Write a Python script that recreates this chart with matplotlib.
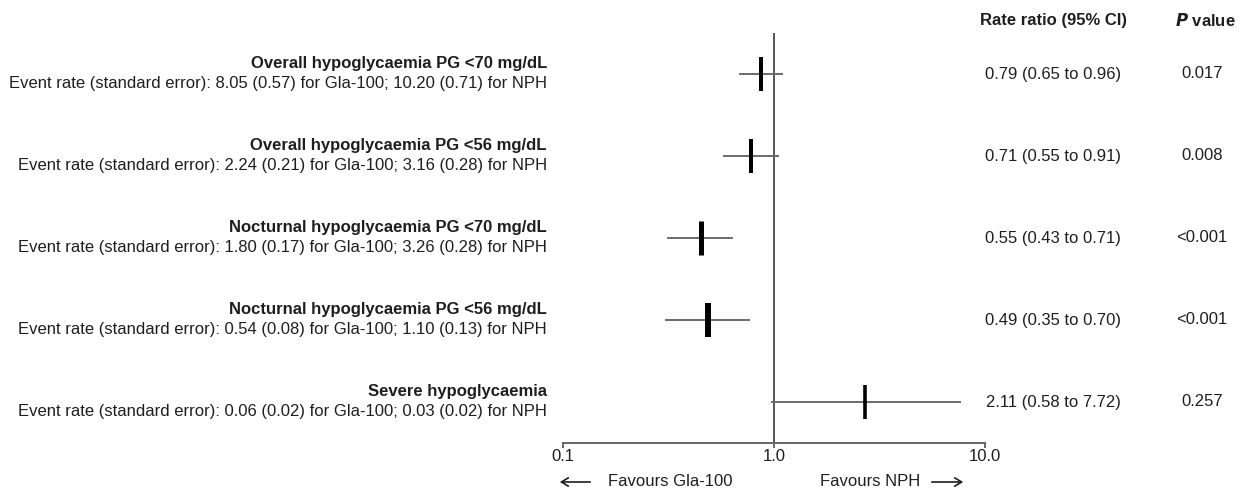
import matplotlib.pyplot as plt
import matplotlib.transforms as mtransforms

plt.rcParams['font.family'] = ['Liberation Sans', 'DejaVu Sans']

# outcome rows, top to bottom
titles = ["Overall hypoglycaemia PG <70 mg/dL",
          "Overall hypoglycaemia PG <56 mg/dL",
          "Nocturnal hypoglycaemia PG <70 mg/dL",
          "Nocturnal hypoglycaemia PG <56 mg/dL",
          "Severe hypoglycaemia"]
gla_rate = ["8.05 (0.57)", "2.24 (0.21)", "1.80 (0.17)", "0.54 (0.08)", "0.06 (0.02)"]
nph_rate = ["10.20 (0.71)", "3.16 (0.28)", "3.26 (0.28)", "1.10 (0.13)", "0.03 (0.02)"]
ratio_text = ["0.79 (0.65 to 0.96)", "0.71 (0.55 to 0.91)", "0.55 (0.43 to 0.71)",
              "0.49 (0.35 to 0.70)", "2.11 (0.58 to 7.72)"]
p_text = ["0.017", "0.008", "<0.001", "<0.001", "0.257"]

# positions as drawn in the figure
est = [0.87, 0.78, 0.45, 0.485, 2.71]
lo = [0.69, 0.58, 0.315, 0.307, 0.98]
hi = [1.09, 1.05, 0.63, 0.76, 7.6]
weight = [2.9, 2.9, 3.6, 4.3, 2.6]

dark = '#1e1e1e'
fs = 12
fig = plt.figure(figsize=(12.48, 4.95), dpi=100)
ax = fig.add_axes([563 / 1248, 52 / 495, 422 / 1248, 410 / 495])
ax.set_xscale('log')
ax.set_xlim(0.1, 10)
ax.set_ylim(4.5, -0.5)

ax.axvline(1.0, color='#555555', lw=1.4, zorder=1)
for i in range(len(est)):
    ax.plot([lo[i], hi[i]], [i, i], color='#6a6a6a', lw=1.4, zorder=2)
    ax.plot([est[i], est[i]], [i - 0.205, i + 0.205], color='black', lw=weight[i],
            solid_capstyle='butt', zorder=3)

for s in ['top', 'right', 'left']:
    ax.spines[s].set_visible(False)
ax.spines['bottom'].set_color('#666666')
ax.spines['bottom'].set_linewidth(1.4)
ax.set_yticks([])
ax.set_xticks([0.1, 1, 10])
ax.set_xticklabels(["0.1", "1.0", "10.0"])
ax.minorticks_off()
ax.tick_params(axis='x', length=3.5, width=1.4, color='#666666', labelsize=fs,
               labelcolor=dark, pad=1)

trans = mtransforms.blended_transform_factory(fig.transFigure, ax.transData)
for i in range(len(titles)):
    ax.text(547 / 1248, i - 0.13, titles[i], transform=trans, ha='right', va='center',
            fontsize=fs, fontweight='bold', color=dark)
    ax.text(547 / 1248, i + 0.115,
            f"Event rate (standard error): {gla_rate[i]} for Gla-100; {nph_rate[i]} for NPH",
            transform=trans, ha='right', va='center', fontsize=fs, color=dark)
    ax.text(1053 / 1248, i, ratio_text[i], transform=trans, ha='center', va='center',
            fontsize=fs, color=dark)
    ax.text(1202 / 1248, i, p_text[i], transform=trans, ha='center', va='center',
            fontsize=fs, color=dark)

fig.text(1053 / 1248, 1 - 20 / 495, "Rate ratio (95% CI)", ha='center', va='center',
         fontsize=fs, fontweight='bold', color=dark)
fig.text(1205 / 1248, 1 - 20 / 495, r"$\bfit{P}$ value", ha='center', va='center',
         fontsize=fs, fontweight='bold', color=dark)

# direction labels under the axis
yl = 1 - 482 / 495
fig.text(608 / 1248, yl, "Favours Gla-100", ha='left', va='center', fontsize=fs, color=dark)
fig.text(820 / 1248, yl, "Favours NPH", ha='left', va='center', fontsize=fs, color=dark)
fig.add_artist(plt.matplotlib.patches.FancyArrowPatch(
    (593 / 1248, yl), (557 / 1248, yl), transform=fig.transFigure,
    arrowstyle='->,head_length=5,head_width=3', lw=1.2, color=dark))
fig.add_artist(plt.matplotlib.patches.FancyArrowPatch(
    (929 / 1248, yl), (966 / 1248, yl), transform=fig.transFigure,
    arrowstyle='->,head_length=5,head_width=3', lw=1.2, color=dark))

fig.savefig('out.png', dpi=100, facecolor='white')
